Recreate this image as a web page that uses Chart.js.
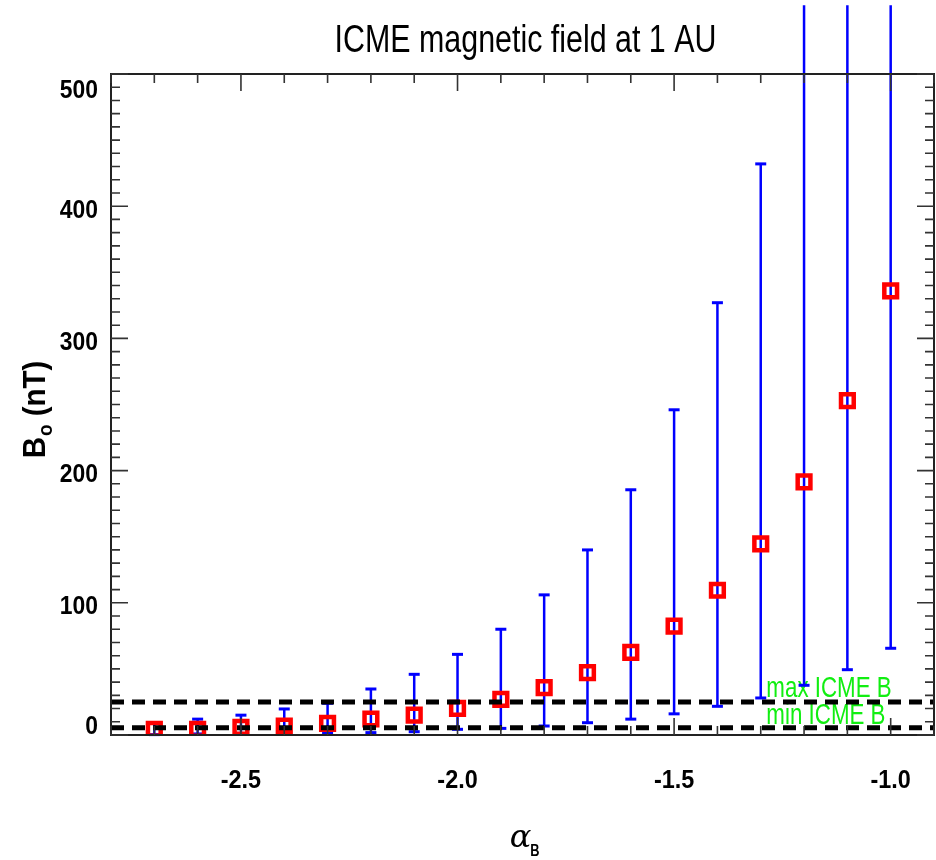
<!DOCTYPE html>
<html><head><meta charset="utf-8">
<script src="https://cdn.jsdelivr.net/npm/chart.js@4"></script>
<style>html,body{margin:0;padding:0;background:#fff;overflow:hidden}canvas{display:block}</style>
</head><body>
<canvas id="c" width="936" height="860"></canvas>
<script>
// ---- data ----
const alphaB  = [-2.7, -2.6, -2.5, -2.4, -2.3, -2.2, -2.1, -2.0, -1.9, -1.8, -1.7, -1.6, -1.5, -1.4, -1.3, -1.2, -1.1, -1.0];
const B0      = [4.3, 4.3, 5.8, 6.8, 8.8, 12.1, 15.1, 20.2, 27, 35.8, 47.2, 62.5, 82.4, 109.5, 144.5, 191.5, 253, 336];
const errLow  = [0.3, 0.8, 0.8, 1.0, 1.5, 1.8, 2.5, 4.3, 5.0, 6.8, 9.3, 12, 16, 21.7, 28, 37.6, 49.4, 65.6];
const errHigh = [8.8, 12, 15, 19.7, 24, 34.8, 45.9, 61, 80, 106, 140, 185.5, 246, 327, 432, 552, 552, 552];
const icmeBMax = 25;
const icmeBMin = 5.5;
const xRange = [-2.8, -0.9];
const yRange = [0, 500];
const xMajorTicks = [-2.5, -2.0, -1.5, -1.0];
const xTickLabels = ['-2.5', '-2.0', '-1.5', '-1.0'];
const yMajorTicks = [0, 100, 200, 300, 400, 500];
const yTickLabels = ['0', '100', '200', '300', '400', '500'];
const xMinorStep = 0.1;
const yMinorStep = 10;
const titleText = 'ICME magnetic field at 1 AU';
const maxLabel = 'max ICME B';
const minLabel = 'min ICME B';

function ctext(ctx, text, x, y, font, sx, align, color) {
  ctx.save();
  ctx.font = font;
  ctx.fillStyle = color || '#000';
  ctx.textBaseline = 'alphabetic';
  ctx.translate(x, y);
  ctx.scale(sx, 1);
  ctx.textAlign = align;
  ctx.fillText(text, 0, 0);
  ctx.restore();
}

const idlPlugin = {
  id: 'idl',
  beforeDatasetsDraw(chart) {
    const ctx = chart.ctx, xs = chart.scales.x, ys = chart.scales.y;
    // green annotations next to the ICME B reference lines
    const left = xs.getPixelForValue(-1.287);
    const gFont = '29px "Liberation Sans", Arial, sans-serif';
    ctext(ctx, maxLabel, left, ys.getPixelForValue(icmeBMax) - 5, gFont, 0.77, 'left', '#11ee11');
    ctext(ctx, minLabel, left, ys.getPixelForValue(icmeBMin) - 4, gFont, 0.77, 'left', '#11ee11');
    // error bars
    ctx.save();
    ctx.strokeStyle = '#0000ff';
    for (let i = 0; i < alphaB.length; i++) {
      const px = xs.getPixelForValue(alphaB[i]);
      const lo = ys.getPixelForValue(errLow[i]);
      const hi = ys.getPixelForValue(errHigh[i]);
      ctx.lineWidth = 2.5;
      ctx.beginPath(); ctx.moveTo(px, lo); ctx.lineTo(px, hi); ctx.stroke();
      ctx.lineWidth = 3;
      ctx.beginPath(); ctx.moveTo(px - 5.5, lo); ctx.lineTo(px + 5.5, lo); ctx.stroke();
      if (errHigh[i] <= yRange[1]) {
        ctx.beginPath(); ctx.moveTo(px - 5.5, hi); ctx.lineTo(px + 5.5, hi); ctx.stroke();
      }
    }
    ctx.restore();
  },
  afterDatasetsDraw(chart) {
    const ctx = chart.ctx, xs = chart.scales.x, ys = chart.scales.y, a = chart.chartArea;
    ctx.save();
    // frame
    ctx.strokeStyle = '#222';
    ctx.lineWidth = 2;
    ctx.strokeRect(a.left, a.top, a.right - a.left, a.bottom - a.top);
    // inward ticks, x (bottom and top)
    ctx.strokeStyle = '#333';
    ctx.lineWidth = 1.6;
    const k0 = Math.round(xRange[0] / xMinorStep), k1 = Math.round(xRange[1] / xMinorStep);
    for (let k = k0; k <= k1; k++) {
      const v = k * xMinorStep;
      const major = xMajorTicks.some(m => Math.abs(m - v) < 1e-6);
      const len = major ? 17 : 9;
      const px = xs.getPixelForValue(v);
      ctx.beginPath();
      ctx.moveTo(px, a.bottom); ctx.lineTo(px, a.bottom - len);
      ctx.moveTo(px, a.top); ctx.lineTo(px, a.top + len);
      ctx.stroke();
    }
    // inward ticks, y (left and right)
    const j0 = Math.round(yRange[0] / yMinorStep), j1 = Math.round(yRange[1] / yMinorStep);
    for (let j = j0; j <= j1; j++) {
      const v = j * yMinorStep;
      const major = yMajorTicks.some(m => Math.abs(m - v) < 1e-6);
      const len = major ? 17 : 9;
      const py = ys.getPixelForValue(v);
      ctx.beginPath();
      ctx.moveTo(a.left, py); ctx.lineTo(a.left + len, py);
      ctx.moveTo(a.right, py); ctx.lineTo(a.right - len, py);
      ctx.stroke();
    }
    ctx.restore();

    const tickFont = 'bold 26px "Liberation Sans", Arial, sans-serif';
    yMajorTicks.forEach((v, i) => {
      let cy = ys.getPixelForValue(v) + 2;
      cy = Math.min(Math.max(cy, a.top + 14), a.bottom - 11);
      ctext(ctx, yTickLabels[i], a.left - 13, cy + 9.5, tickFont, 0.88, 'right');
    });
    xMajorTicks.forEach((v, i) => {
      ctext(ctx, xTickLabels[i], xs.getPixelForValue(v), 788, tickFont, 0.9, 'center');
    });
    // title
    ctext(ctx, titleText, (a.left + a.right) / 2 + 3, 52, '38px "Liberation Sans", Arial, sans-serif', 0.8, 'center');

    // y axis title: B_o (nT), rotated
    ctx.save();
    ctx.translate(45, 410);
    ctx.rotate(-Math.PI / 2);
    ctx.scale(0.95, 1);
    ctx.fillStyle = '#000';
    ctx.textBaseline = 'alphabetic';
    const fB = 'bold 31px "Liberation Sans", Arial, sans-serif';
    const fs = 'bold 20px "Liberation Sans", Arial, sans-serif';
    ctx.font = fB; const wB = ctx.measureText('B').width;
    ctx.font = fs; const wo = ctx.measureText('o').width;
    ctx.font = fB; const wr = ctx.measureText(' (nT)').width;
    let sx = -(wB + wo + wr) / 2;
    ctx.textAlign = 'left';
    ctx.font = fB; ctx.fillText('B', sx, 0);
    ctx.font = fs; ctx.fillText('o', sx + wB + 1, 7);
    ctx.font = fB; ctx.fillText(' (nT)', sx + wB + wo + 1, 0);
    ctx.restore();

    // x axis title: alpha_B
    ctx.save();
    ctx.fillStyle = '#000';
    ctx.textBaseline = 'alphabetic';
    ctx.font = 'italic 32px "DejaVu Serif", "Liberation Serif", serif';
    const wa = ctx.measureText('\u03B1').width;
    const fx = (a.left + a.right) / 2 + 2 - wa / 2;
    ctx.textAlign = 'left';
    ctx.fillText('\u03B1', fx - 4, 847);
    ctx.font = 'bold 16px "Liberation Sans", Arial, sans-serif';
    ctx.save(); ctx.translate(fx + wa - 5, 856); ctx.scale(0.8, 1); ctx.fillText('B', 0, 0); ctx.restore();
    ctx.restore();
  }
};

const points = alphaB.map((x, i) => ({ x: x, y: B0[i] }));
const target = { left: 111, top: 74, right: 934, bottom: 735 };

new Chart(document.getElementById('c'), {
  type: 'scatter',
  data: {
    datasets: [
      { label: maxLabel, data: [{ x: xRange[0], y: icmeBMax }, { x: xRange[1], y: icmeBMax }],
        showLine: true, borderColor: '#000', borderWidth: 5, borderDash: [13, 8], pointRadius: 0, order: 0 },
      { label: minLabel, data: [{ x: xRange[0], y: icmeBMin }, { x: xRange[1], y: icmeBMin }],
        showLine: true, borderColor: '#000', borderWidth: 5, borderDash: [13, 8], pointRadius: 0, order: 0 },
      { label: 'B0', data: points, pointStyle: 'rect', pointRadius: 9, pointBorderWidth: 4.5,
        borderColor: '#ff0000', backgroundColor: 'rgba(0,0,0,0)', pointBackgroundColor: 'rgba(0,0,0,0)',
        showLine: false, order: 1 }
    ]
  },
  options: {
    responsive: false,
    devicePixelRatio: 1,
    animation: false,
    events: [],
    layout: {
      autoPadding: false,
      padding: { left: target.left, right: 936 - target.right, top: target.top, bottom: 860 - target.bottom }
    },
    plugins: { legend: { display: false }, tooltip: { enabled: false }, title: { display: false } },
    scales: {
      x: { type: 'linear', min: xRange[0], max: xRange[1], display: false },
      y: { type: 'linear', min: yRange[0], max: yRange[1], display: false }
    }
  },
  plugins: [idlPlugin]
});
</script>
</body></html>
